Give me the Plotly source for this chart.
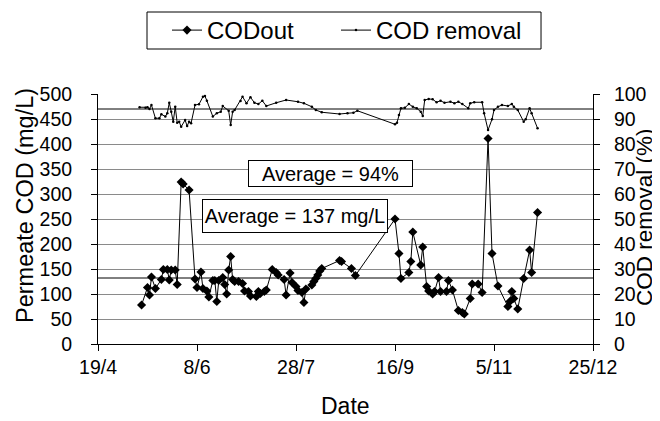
import plotly.graph_objects as go

# ---------------- data ----------------
cod_dates = ["2007-05-11","2007-05-14","2007-05-15","2007-05-16","2007-05-18","2007-05-21","2007-05-22","2007-05-24","2007-05-25","2007-05-26","2007-05-28","2007-05-29","2007-05-31",
             "2007-06-01","2007-06-04","2007-06-07","2007-06-08","2007-06-10","2007-06-11","2007-06-13","2007-06-14","2007-06-16","2007-06-17","2007-06-18","2007-06-19","2007-06-21","2007-06-22","2007-06-23","2007-06-24","2007-06-25","2007-06-26","2007-06-27","2007-06-29",
             "2007-07-01","2007-07-02","2007-07-04","2007-07-05","2007-07-08","2007-07-09","2007-07-10","2007-07-12","2007-07-13","2007-07-16","2007-07-18","2007-07-19","2007-07-22","2007-07-23","2007-07-25","2007-07-26","2007-07-28","2007-07-29","2007-07-31",
             "2007-08-01","2007-08-02","2007-08-05","2007-08-06","2007-08-07","2007-08-08","2007-08-09","2007-08-10","2007-08-19","2007-08-20","2007-08-25","2007-08-27",
             "2007-09-16","2007-09-18","2007-09-19","2007-09-23","2007-09-24","2007-09-25","2007-09-29","2007-09-30",
             "2007-10-02","2007-10-03","2007-10-05","2007-10-06","2007-10-08","2007-10-09","2007-10-12","2007-10-13","2007-10-15","2007-10-18","2007-10-20","2007-10-21","2007-10-24","2007-10-25","2007-10-28","2007-10-30",
             "2007-11-02","2007-11-04","2007-11-07","2007-11-12","2007-11-13","2007-11-14","2007-11-15","2007-11-17","2007-11-20","2007-11-23","2007-11-24","2007-11-27"]
cod_out = [78,113,98,134,111,129,149,149,128,148,148,119,324,
           320,308,130,113,144,111,106,94,127,127,85,127,133,119,100,148,175,129,125,125,
           121,106,105,96,95,105,101,105,108,149,143,138,129,98,142,123,115,107,103,
           83,110,118,125,131,138,146,151,167,165,151,137,
           250,181,131,143,165,224,158,194,
           115,106,100,105,133,105,105,127,108,67,63,60,91,120,120,103,
           411,181,116,75,85,105,91,70,131,188,143,263]

rem_dates = ["2007-05-10","2007-05-13","2007-05-14","2007-05-15","2007-05-16","2007-05-18","2007-05-20","2007-05-21","2007-05-23","2007-05-24","2007-05-25","2007-05-26","2007-05-27","2007-05-28","2007-05-29","2007-05-30","2007-05-31",
             "2007-06-02","2007-06-03","2007-06-04","2007-06-05","2007-06-07","2007-06-09","2007-06-11","2007-06-12","2007-06-13","2007-06-16","2007-06-18","2007-06-20","2007-06-21","2007-06-24","2007-06-25","2007-06-26","2007-06-27","2007-06-30",
             "2007-07-01","2007-07-03","2007-07-05","2007-07-07","2007-07-09","2007-07-11","2007-07-13","2007-07-18","2007-07-23","2007-07-29",
             "2007-08-01","2007-08-05","2007-08-07","2007-08-10","2007-08-19","2007-08-23","2007-08-26","2007-08-28",
             "2007-09-16","2007-09-17","2007-09-18","2007-09-19","2007-09-21","2007-09-23","2007-09-25","2007-09-27","2007-09-29","2007-09-30",
             "2007-10-01","2007-10-03","2007-10-05","2007-10-07","2007-10-09","2007-10-11","2007-10-14","2007-10-16","2007-10-18","2007-10-20","2007-10-23","2007-10-24","2007-10-26","2007-10-30","2007-10-31",
             "2007-11-02","2007-11-04","2007-11-05","2007-11-07","2007-11-09","2007-11-12","2007-11-14","2007-11-15","2007-11-17","2007-11-20","2007-11-21","2007-11-23","2007-11-24","2007-11-27"]
cod_removal = [94.7,94.5,94.7,94.0,95.6,90.3,90.3,91.9,91.0,92.3,96.5,92.9,88.9,94.9,88.5,88.9,86.9,
               89.6,87.2,88.9,88.3,95.6,95.9,98.9,99.2,97.3,91.0,92.3,92.9,95.2,93.3,87.6,92.9,93.6,97.2,
               98.9,96.3,98.7,96.5,96.0,97.3,95.2,96.5,97.6,96.9,
               96.3,94.9,93.6,92.7,92.0,92.3,92.5,93.3,
               87.9,88.5,91.6,94.3,94.5,96.0,94.9,94.3,92.9,91.2,
               97.6,98.0,97.9,96.7,97.3,96.5,96.9,96.3,96.9,96.0,94.3,96.3,96.7,96.7,92.3,
               85.6,89.9,93.6,94.9,95.6,95.2,96.0,94.9,93.6,88.9,89.9,94.3,92.3,86.3]

avg_cod_line = 132          # mg/L, horizontal average line (left axis)
avg_removal_line = 94       # %, horizontal average line (right axis)
avg_cod_text = "Average = 137 mg/L"
avg_removal_text = "Average = 94%"

x_range = ["2007-04-19", "2007-12-25"]
x_tick_dates = ["2007-04-19", "2007-06-08", "2007-07-28", "2007-09-16", "2007-11-05", "2007-12-25"]
x_tick_labels = ["19/4", "8/6", "28/7", "16/9", "5/11", "25/12"]
left_ticks = [0, 50, 100, 150, 200, 250, 300, 350, 400, 450, 500]
right_ticks = [0, 10, 20, 30, 40, 50, 60, 70, 80, 90, 100]

x_title = "Date"
y_title = "Permeate COD (mg/L)"
y2_title = "COD removal (%)"

# ---------------- figure ----------------
FONT = "Liberation Sans, Arial, sans-serif"
# the page body adds an 8 px margin; the figure is sized to fill the rest of the window
W, H = 652, 413

fig = go.Figure()
fig.add_trace(go.Scatter(
    x=cod_dates, y=cod_out, name="CODout", mode="lines+markers",
    line=dict(color="black", width=1),
    marker=dict(symbol="diamond", size=7, color="black"),
    yaxis="y", legend="legend"))
fig.add_trace(go.Scatter(
    x=rem_dates, y=cod_removal, name="COD removal", mode="lines+markers",
    line=dict(color="black", width=1),
    marker=dict(symbol="circle", size=2.5, color="black"),
    yaxis="y2", legend="legend2"))

fig.add_shape(type="line", xref="paper", x0=0, x1=1, yref="y2",
              y0=avg_removal_line, y1=avg_removal_line,
              line=dict(color="black", width=1), layer="below")
fig.add_shape(type="line", xref="paper", x0=0, x1=1, yref="y",
              y0=avg_cod_line, y1=avg_cod_line,
              line=dict(color="black", width=1), layer="below")
# legend frame
fig.add_shape(type="rect", xref="paper", yref="paper",
              x0=0.099, x1=0.895, y0=1.18, y1=1.328,
              line=dict(color="black", width=1), fillcolor="rgba(0,0,0,0)")

fig.add_annotation(text=avg_removal_text, xref="paper", yref="paper",
                   x=0.469, y=0.736, showarrow=False,
                   font=dict(size=20, color="black", family=FONT),
                   bgcolor="white", bordercolor="black", borderwidth=1,
                   width=161, height=23, borderpad=1)
fig.add_annotation(text=avg_cod_text, xref="paper", yref="paper",
                   x=0.397, y=0.512, showarrow=False,
                   font=dict(size=20, color="black", family=FONT),
                   bgcolor="white", bordercolor="black", borderwidth=1,
                   width=182, height=30, borderpad=1)

# axis titles
fig.add_annotation(text=y_title, xref="paper", yref="paper", x=-0.1475, y=0.556,
                   xanchor="center", yanchor="middle",
                   textangle=-90, showarrow=False, font=dict(size=23.5, family=FONT, color="black"))
fig.add_annotation(text=y2_title, xref="paper", yref="paper", x=1.103, y=0.508,
                   xanchor="center", yanchor="middle",
                   textangle=-90, showarrow=False, font=dict(size=22.5, family=FONT, color="black"))
fig.add_annotation(text=x_title, xref="paper", yref="paper", x=0.501, y=-0.248,
                   xanchor="center", yanchor="middle",
                   showarrow=False, font=dict(size=23, family=FONT, color="black"))

legend_common = dict(orientation="h", xref="container", yref="container",
                     xanchor="left", y=1 - 22.5 / H, yanchor="middle",
                     borderwidth=0, bgcolor="rgba(0,0,0,0)",
                     font=dict(size=24, family=FONT, color="black"))

fig.update_layout(
    width=W, height=H, autosize=False,
    margin=dict(l=90, r=67, t=86, b=77, autoexpand=False),
    paper_bgcolor="white", plot_bgcolor="white",
    font=dict(family=FONT, color="black", size=19),
    showlegend=True,
    legend=dict(x=159 / W, **legend_common),
    legend2=dict(x=328 / W, **legend_common),
    xaxis=dict(type="date", range=x_range, tickvals=x_tick_dates, ticktext=x_tick_labels,
               ticks="outside", ticklen=6, tickcolor="black", tickwidth=1,
               showline=True, linecolor="black", linewidth=1,
               showgrid=False, zeroline=False, automargin=False,
               tickfont=dict(size=19.5), ticklabelstandoff=0),
    yaxis=dict(range=[0, 500], tickvals=left_ticks,
               ticks="outside", ticklen=6, tickcolor="black", tickwidth=1,
               showline=True, linecolor="black", linewidth=1,
               showgrid=True, gridcolor="#8a8a8a", gridwidth=1, zeroline=False,
               automargin=False, tickfont=dict(size=19.5), ticklabelstandoff=15),
    yaxis2=dict(range=[0, 100], tickvals=right_ticks, overlaying="y", side="right",
                ticks="outside", ticklen=6, tickcolor="black", tickwidth=1,
                showline=True, linecolor="black", linewidth=1,
                showgrid=False, zeroline=False, automargin=False,
                tickfont=dict(size=19.5), ticklabelstandoff=10),
)

fig.write_html("out.html")
